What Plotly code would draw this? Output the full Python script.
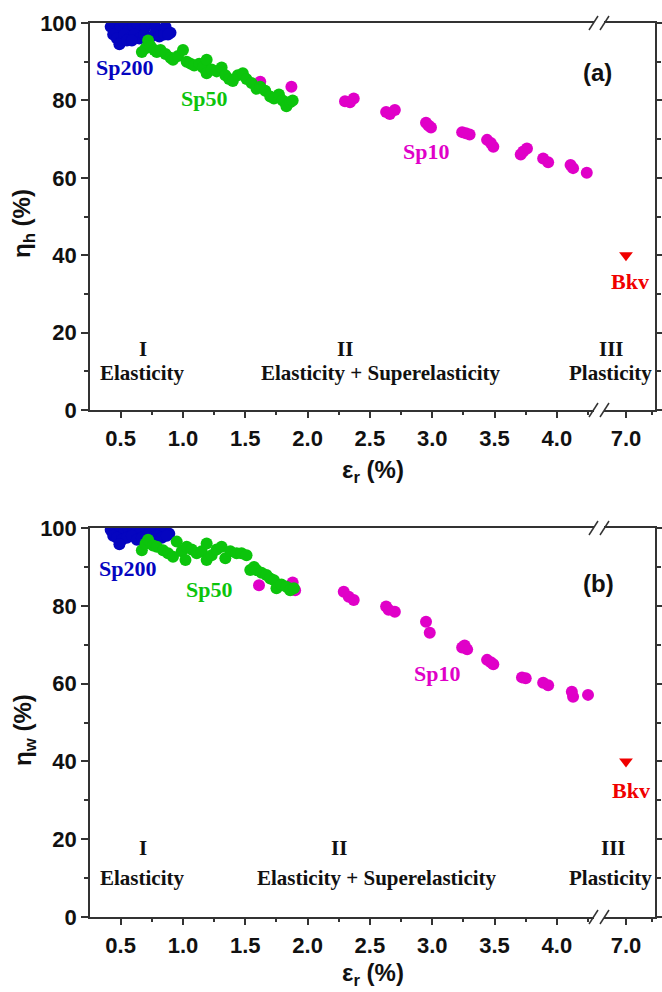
import plotly.graph_objects as go

# ---------------- data ----------------
# panel (a): eta_h vs eps_r
sp200_a_x = [0.42,0.45,0.48,0.50,0.53,0.56,0.60,0.63,0.66,0.70,0.74,0.78,0.82,0.86,0.90,0.44,0.47,0.50,0.53,0.57,0.61,0.65,0.69,0.73,0.77,0.81,0.85,0.88,0.49,0.55,0.59]
sp200_a_y = [99,100,98,99,100,98,99,100,98,99,100,99,98,99,97.5,97,96,95,97,96,97,96,97,96,97,96.5,97,97,94.5,95.5,95.5]
sp50_a_x = [0.67,0.70,0.72,0.74,0.77,0.79,0.82,0.86,0.90,0.92,0.96,1.00,1.03,1.06,1.09,1.13,1.16,1.19,1.19,1.23,1.27,1.31,1.34,1.37,1.40,1.44,1.48,1.51,1.55,1.59,1.62,1.66,1.70,1.73,1.77,1.80,1.83,1.86,1.88]
sp50_a_y = [92.5,93.5,95.5,94,93,92.5,93,92,91,90.5,91.5,93,90,89.5,89,89.5,88.5,90.5,87,88,87.5,88.5,86.5,85.5,85,86.5,87,85.5,84.5,83,83.5,82.5,81,80.5,81.5,80,78.5,79.5,80]
sp10_a_x = [1.62,1.87,2.30,2.34,2.37,2.63,2.66,2.70,2.95,2.97,2.99,3.24,3.27,3.30,3.44,3.47,3.49,3.71,3.73,3.76,3.89,3.93,4.11,4.13,4.24]
sp10_a_y = [84.8,83.5,79.8,79.5,80.5,77,76.5,77.5,74.2,73.5,73,71.8,71.5,71.2,69.8,69,68,66,66.8,67.6,65,64,63.3,62.5,61.3]
bkv_a_x = [7.0]
bkv_a_y = [40]

# panel (b): eta_w vs eps_r
sp200_b_x = [0.42,0.45,0.48,0.50,0.53,0.56,0.60,0.63,0.66,0.70,0.74,0.78,0.82,0.86,0.89,0.44,0.47,0.51,0.55,0.59,0.63,0.67,0.71,0.75,0.79,0.83,0.87,0.49]
sp200_b_y = [99.5,100,99,100,99,100,99.5,100,99,100,99.5,100,99,99.5,98.5,98,97.5,97,97.5,98,97,97.5,98,97.5,98,97.5,98,95.8]
sp50_b_x = [0.67,0.70,0.72,0.76,0.79,0.84,0.88,0.92,0.95,0.99,1.02,1.03,1.07,1.11,1.15,1.19,1.19,1.23,1.27,1.31,1.34,1.38,1.43,1.47,1.51,1.54,1.57,1.59,1.63,1.67,1.70,1.73,1.75,1.79,1.83,1.86,1.89]
sp50_b_y = [94.3,96,97,95.5,95.2,94.3,93.5,92.6,96.5,94,91.8,95.2,94.5,93.5,94,96,91.8,93,94.5,95.2,92.2,94,93.5,93.5,93,89.2,90,89.2,88.5,87.9,87,86.6,84.5,85.5,84.9,84,84.5]
sp10_b_x = [1.61,1.88,1.90,2.29,2.33,2.37,2.63,2.65,2.70,2.95,2.98,3.24,3.26,3.28,3.44,3.47,3.49,3.72,3.75,3.89,3.93,4.12,4.13,4.25]
sp10_b_y = [85.3,86,84,83.6,82.3,81.5,79.8,79,78.5,75.9,73.1,69.3,69.8,68.8,66.1,65.5,65,61.6,61.4,60.2,59.6,57.9,56.6,57.1]
bkv_b_x = [7.0]
bkv_b_y = [40]

# ticks
x_ticks = [0.5, 1.0, 1.5, 2.0, 2.5, 3.0, 3.5, 4.0]
x_tick_labels = ["0.5", "1.0", "1.5", "2.0", "2.5", "3.0", "3.5", "4.0"]
x_minor = [0.75, 1.25, 1.75, 2.25, 2.75, 3.25, 3.75, 4.25]
x2_ticks = [7.0]
x2_tick_labels = ["7.0"]
x2_minor = [7.25]
y_ticks = [0, 20, 40, 60, 80, 100]
y_minor = [10, 30, 50, 70, 90]

# ---------------- styling ----------------
BLUE = "#0505C0"
GREEN = "#0CC40C"
MAGENTA = "#E000C8"
RED = "#F00000"
AXC = "#333333"
W, H = 662, 992
ML, MR, MT, MB = 90, 7, 23, 75
PW, PH = W - ML - MR, H - MT - MB
BREAK = (598 - ML) / PW

def px2p(px, py):
    # picture pixel -> paper coordinates
    return (px - ML) / PW, (H - MB - py) / PH

top_dom = [px2p(0, 410)[1], 1.0]
bot_dom = [0.0, px2p(0, 528)[1]]

fig = go.Figure()

def sc(x, y, color, xa, ya, symbol="circle", size=12):
    fig.add_trace(go.Scatter(x=x, y=y, mode="markers", xaxis=xa, yaxis=ya,
                             marker=dict(color=color, size=size, symbol=symbol,
                                         line=dict(width=0)),
                             showlegend=False, hoverinfo="x+y"))

sc(sp200_a_x, sp200_a_y, BLUE, "x", "y")
sc(sp10_a_x, sp10_a_y, MAGENTA, "x", "y")
sc(sp50_a_x, sp50_a_y, GREEN, "x", "y")
sc(bkv_a_x, bkv_a_y, RED, "x2", "y3", symbol="triangle-down", size=12)

sc(sp200_b_x, sp200_b_y, BLUE, "x3", "y2")
sc(sp10_b_x, sp10_b_y, MAGENTA, "x3", "y2")
sc(sp50_b_x, sp50_b_y, GREEN, "x3", "y2")
sc(bkv_b_x, bkv_b_y, RED, "x4", "y4", symbol="triangle-down", size=12)

tickfont = dict(family="Liberation Sans, Arial", size=22, color="#111111", weight="bold")

def xax(dom, anchor, rng, tv, tt, minor):
    return dict(domain=dom, anchor=anchor, range=rng, tickmode="array",
                tickvals=tv, ticktext=tt, showline=True, linecolor=AXC,
                linewidth=1.5, mirror=True, ticks="outside", ticklen=6,
                tickwidth=1.5, tickcolor=AXC, showgrid=False, zeroline=False,
                tickfont=tickfont, ticklabelstandoff=2, automargin=False,
                minor=dict(tickvals=minor, ticks="outside", ticklen=3,
                           tickwidth=1.5, tickcolor=AXC, showgrid=False))

def yax(dom, anchor, side, labels):
    return dict(domain=dom, anchor=anchor, side=side, range=[0, 100],
                tickmode="array", tickvals=y_ticks, ticktext=[str(v) for v in y_ticks],
                showticklabels=labels, showline=True, linecolor=AXC,
                linewidth=1.5, ticks="outside", ticklen=7, tickwidth=1.5,
                tickcolor=AXC, showgrid=False, zeroline=False, tickfont=tickfont,
                automargin=False,
                minor=dict(tickvals=y_minor, ticks="outside", ticklen=4,
                           tickwidth=1.5, tickcolor=AXC, showgrid=False))

X1R = [0.254, 4.33]
X2R = [6.73, 7.28]
fig.update_layout(
    width=W, height=H, margin=dict(l=ML, r=MR, t=MT, b=MB),
    paper_bgcolor="white", plot_bgcolor="white", showlegend=False,
    xaxis=xax([0, BREAK], "y", X1R, x_ticks, x_tick_labels, x_minor),
    xaxis2=xax([BREAK, 1], "y3", X2R, x2_ticks, x2_tick_labels, x2_minor),
    yaxis=yax(top_dom, "x", "left", True),
    yaxis3=yax(top_dom, "x2", "right", False),
    xaxis3=xax([0, BREAK], "y2", X1R, x_ticks, x_tick_labels, x_minor),
    xaxis4=xax([BREAK, 1], "y4", X2R, x2_ticks, x2_tick_labels, x2_minor),
    yaxis2=yax(bot_dom, "x3", "left", True),
    yaxis4=yax(bot_dom, "x4", "right", False),
)

serif = "Liberation Serif, Times New Roman"
sans = "Liberation Sans, Arial"
ann = []

def txt(text, x, y, xref, yref, color="#111111", size=22, family=serif, angle=0):
    ann.append(dict(text="<b>" + text + "</b>", x=x, y=y, xref=xref, yref=yref,
                    showarrow=False, xanchor="center", yanchor="middle",
                    textangle=angle,
                    font=dict(family=family, size=size, color=color)))

# panel (a) labels
txt("Sp200", 0.527, 88.6, "x", "y", BLUE)
txt("Sp50", 1.169, 80.4, "x", "y", GREEN)
txt("Sp10", 2.95, 66.9, "x", "y", MAGENTA)
txt("Bkv", 7.035, 33.1, "x2", "y3", RED)
txt("I", 0.68, 15.8, "x", "y", size=21)
txt("Elasticity", 0.671, 9.6, "x", "y", size=21)
txt("II", 2.30, 15.8, "x", "y", size=21)
txt("Elasticity + Superelasticity", 2.59, 9.6, "x", "y", size=21)
txt("III", 6.865, 15.8, "x2", "y3", size=21)
txt("Plasticity", 6.846, 9.6, "x2", "y3", size=21)
ax_, ay_ = px2p(597, 72)
txt("(a)", ax_, ay_, "paper", "paper", size=24, family=sans)

# panel (b) labels
txt("Sp200", 0.551, 89.7, "x3", "y2", BLUE)
txt("Sp50", 1.21, 84.3, "x3", "y2", GREEN)
txt("Sp10", 3.04, 62.5, "x3", "y2", MAGENTA)
txt("Bkv", 7.045, 32.6, "x4", "y4", RED)
txt("I", 0.68, 17.7, "x3", "y2", size=21)
txt("Elasticity", 0.671, 10.0, "x3", "y2", size=21)
txt("II", 2.25, 17.7, "x3", "y2", size=21)
txt("Elasticity + Superelasticity", 2.56, 10.0, "x3", "y2", size=21)
txt("III", 6.875, 17.7, "x4", "y4", size=21)
txt("Plasticity", 6.846, 10.0, "x4", "y4", size=21)
bx_, by_ = px2p(598, 583)
txt("(b)", bx_, by_, "paper", "paper", size=24, family=sans)

# axis titles
tx, ty = px2p(24, 224)
txt("η<sub>h</sub> (%)", tx, ty, "paper", "paper", size=24, family=sans, angle=-90)
tx, ty = px2p(24, 730)
txt("η<sub>w</sub> (%)", tx, ty, "paper", "paper", size=24, family=sans, angle=-90)
tx, ty = px2p(372.5, 471)
txt("ε<sub>r</sub> (%)", tx, ty, "paper", "paper", size=24, family=sans)
tx, ty = px2p(372.5, 974)
txt("ε<sub>r</sub> (%)", tx, ty, "paper", "paper", size=24, family=sans)

fig.update_layout(annotations=ann)

# axis break marks (//) on the frame lines
shapes = []
for yline in (23, 410, 528, 917):
    x0, y0 = px2p(594, yline)
    x1, _ = px2p(604, yline)
    shapes.append(dict(type="line", xref="paper", yref="paper", x0=x0, x1=x1,
                       y0=y0, y1=y0, line=dict(color="white", width=4)))
    for dx in (0, 11):
        a0, b0 = px2p(589 + dx, yline + 7)
        a1, b1 = px2p(598 + dx, yline - 7)
        shapes.append(dict(type="line", xref="paper", yref="paper", x0=a0, y0=b0,
                           x1=a1, y1=b1, line=dict(color=AXC, width=1.5)))
fig.update_layout(shapes=shapes)

# remove the default 8px page margin so the figure fills the window exactly
fig.write_html("out.html", config={"displayModeBar": False},
               post_script="document.body.style.margin='0px';")
